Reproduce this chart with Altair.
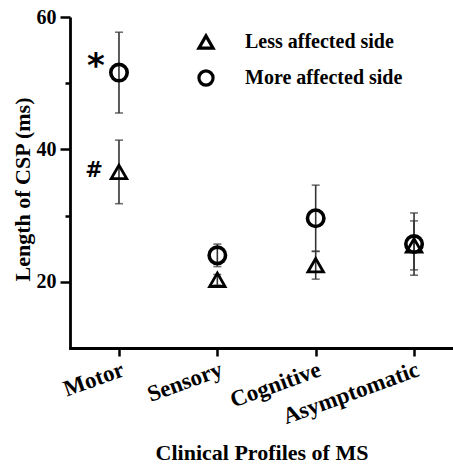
import altair as alt
import pandas as pd

profiles = ["Motor", "Sensory", "Cognitive", "Asymptomatic"]
sides = ["Less affected side", "More affected side"]

less_mean = [36.6, 20.3, 22.5, 25.5]
less_err = [4.8, 0.8, 2.1, 3.7]
more_mean = [51.6, 24.0, 29.6, 25.7]
more_err = [6.1, 1.7, 5.0, 4.7]

marks_text = ["*", "#"]
marks_value = [52.8, 37.1]

rows = []
for i, p in enumerate(profiles):
    rows.append({"profile": p, "side": sides[0], "mean": less_mean[i],
                 "lo": less_mean[i] - less_err[i], "hi": less_mean[i] + less_err[i]})
    rows.append({"profile": p, "side": sides[1], "mean": more_mean[i],
                 "lo": more_mean[i] - more_err[i], "hi": more_mean[i] + more_err[i]})
df = pd.DataFrame(rows)
ann = pd.DataFrame({"profile": ["Motor", "Motor"], "text": marks_text, "value": marks_value})

FONT = "Liberation Serif"

xscale = alt.Scale(domain=profiles, type="point", padding=0.447, align=0.557)
yscale = alt.Scale(domain=[10, 60], nice=False, zero=False)
shape_scale = alt.Scale(domain=sides, range=["triangle-up", "circle"])

x_enc = alt.X("profile:N", scale=xscale, sort=profiles,
              axis=alt.Axis(title="Clinical Profiles of MS", labelAngle=-20,
                            labelAlign="right", labelBaseline="top", labelFontSize=23,
                            labelPadding=2, tickSize=8, titleFontSize=22,
                            titleBaseline="alphabetic", titleY=111))
y_axis = alt.Axis(title="Length of CSP (ms)", values=[20, 30, 40, 50, 60],
                  labelExpr="datum.value % 20 === 0 ? datum.label : ''",
                  tickSize={"condition": {"test": "datum.value % 20 === 0", "value": 10}, "value": 5},
                  labelPadding=4, labelFontSize=20, titleFontSize=22, titleBaseline="alphabetic",
                  titleX=-41, titleY=172, titleAngle=-90)

base = alt.Chart(df)

bars = base.mark_errorbar(ticks={"size": 8, "thickness": 1.6, "color": "#333333"},
                          thickness=1.6, color="#333333").encode(
    x=x_enc,
    y=alt.Y("lo:Q", scale=yscale, axis=y_axis),
    y2="hi:Q",
)

legend = alt.Legend(title=None, orient="none", legendX=126, legendY=15,
                    labelFont=FONT, labelFontSize=20, labelFontWeight="bold",
                    labelColor="black", symbolSize=200, symbolStrokeWidth=3.2,
                    symbolStrokeColor="black", symbolFillColor="transparent",
                    rowPadding=9, labelOffset=29, padding=0)

def pts(side, size, sw):
    return base.transform_filter(alt.datum.side == side).mark_point(
        filled=False, color="black", opacity=1, size=size, strokeWidth=sw).encode(
        x=alt.X("profile:N", scale=xscale, sort=profiles),
        y=alt.Y("mean:Q", scale=yscale),
        shape=alt.Shape("side:N", scale=shape_scale, legend=legend),
    )

less_pts = pts(sides[0], 240, 2.8)
more_pts = pts(sides[1], 270, 3.6)

def ann_layer(sym, size, dx):
    return alt.Chart(ann).transform_filter(alt.datum.text == sym).mark_text(
        font="DejaVu Sans", fontSize=size, fontWeight="bold",
        color="black", dx=dx, dy=2, baseline="middle").encode(
        x=alt.X("profile:N", scale=xscale, sort=profiles),
        y=alt.Y("value:Q", scale=yscale),
        text="text:N",
    )

star = ann_layer("*", 34, -23)
hash_ = ann_layer("#", 21, -25)

chart = alt.layer(bars, less_pts, more_pts, star, hash_).properties(
    width=383, height=331,
    autosize=alt.AutoSizeParams(type="none"),
    padding={"left": 70, "top": 17, "right": 0, "bottom": 118},
).configure_view(stroke=None).configure_axis(
    labelFont=FONT, titleFont=FONT, labelFontWeight="bold",
    titleFontWeight="bold", labelColor="black", titleColor="black",
    domainColor="black", domainWidth=2.8, tickColor="black", tickWidth=2.5,
    grid=False,
).configure_axisX(domainCap="square")

chart.save("out.html", embed_options={"renderer": "svg", "actions": False})
